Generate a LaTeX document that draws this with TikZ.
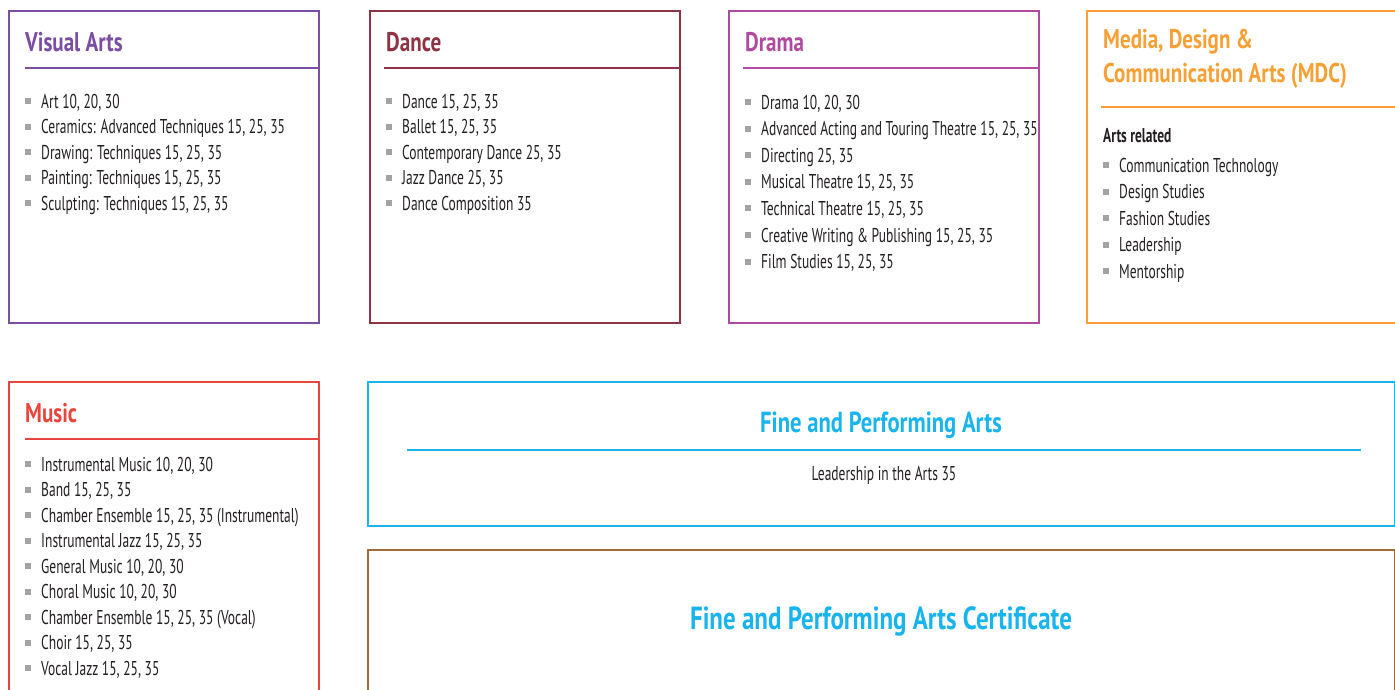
\documentclass[tikz,border=0pt]{standalone}
\usepackage{fontspec}
\setmainfont{PT Sans}[FakeStretch=0.675]
\newfontfamily\ttlfont{PT Sans}[FakeStretch=0.78]
\usepackage{tikz}
\usepackage{xcolor}

\definecolor{vacol}{HTML}{7A4FA3}
\definecolor{dacol}{HTML}{8E3346}
\definecolor{drcol}{HTML}{B04A9E}
\definecolor{mdcol}{HTML}{F7A035}
\definecolor{mucol}{HTML}{E8453C}
\definecolor{fpcol}{HTML}{1AB4EC}
\definecolor{cecol}{HTML}{A26B3E}
\definecolor{txtgray}{HTML}{231F20}
\definecolor{bulgray}{HTML}{A3A3A3}

\newcommand{\bul}{\textcolor{bulgray}{\rule[0.2em]{6pt}{6pt}}\hspace{10pt}}

\tikzset{
  box/.style={draw=#1, line width=2pt, inner sep=0pt, anchor=north west},
  ttl/.style={text=#1, anchor=base west, inner sep=0pt, font=\ttlfont\fontsize{27}{34}\selectfont\bfseries},
  itm/.style={text=txtgray, anchor=base west, inner sep=0pt, font=\fontsize{20}{24}\selectfont},
}

\begin{document}
\begin{tikzpicture}[x=1pt,y=-1pt]
    \useasboundingbox (0,0) rectangle (1395,689);
    \clip (0,0) rectangle (1395,689);

    \node[box=vacol, minimum width=310pt, minimum height=312pt] (va) at (8,10) {};
    \node[ttl=vacol] (vat) at (25,51) {Visual Arts};
    \draw[vacol, line width=1.5pt] (25,68) -- (va.east |- 0,68);
    \foreach \t [count=\i from 0] in {{Art 10, 20, 30},{Ceramics: Advanced Techniques 15, 25, 35},{Drawing: Techniques 15, 25, 35},{Painting: Techniques 15, 25, 35},{Sculpting: Techniques 15, 25, 35}}
      \node[itm] (va\i) at (25,108+25.5*\i) {\bul\t};

    \node[box=dacol, minimum width=310pt, minimum height=312pt] (da) at (369,10) {};
    \node[ttl=dacol] (dat) at (386,51) {Dance};
    \draw[dacol, line width=1.5pt] (384,68) -- (da.east |- 0,68);
    \foreach \t [count=\i from 0] in {{Dance 15, 25, 35},{Ballet 15, 25, 35},{Contemporary Dance 25, 35},{Jazz Dance 25, 35},{Dance Composition 35}}
      \node[itm] (da\i) at (386,108+25.5*\i) {\bul\t};

    \node[box=drcol, minimum width=310pt, minimum height=312pt] (dr) at (728,10) {};
    \node[ttl=drcol] (drt) at (745,51) {Drama};
    \draw[drcol, line width=1.5pt] (743,68) -- (dr.east |- 0,68);
    \foreach \t [count=\i from 0] in {{Drama 10, 20, 30},{Advanced Acting and Touring Theatre 15, 25, 35},{Directing 25, 35},{Musical Theatre 15, 25, 35},{Technical Theatre 15, 25, 35},{Creative Writing \& Publishing 15, 25, 35},{Film Studies 15, 25, 35}}
      \node[itm] (dr\i) at (745,109+26.6*\i) {\bul\t};

    \node[box=mdcol, minimum width=330pt, minimum height=312pt] (md) at (1086,10) {};
    \node[ttl=mdcol] (mdt) at (1103,48) {Media, Design \&};
    \node[ttl=mdcol] (mdt2) at (1103,82) {Communication Arts (MDC)};
    \draw[mdcol, line width=1.5pt] (1101,107) -- (1395,107);
    \node[itm, font=\fontsize{20}{24}\selectfont\bfseries] (mdh) at (1103,142) {Arts related};
    \foreach \t [count=\i from 0] in {{Communication Technology},{Design Studies},{Fashion Studies},{Leadership},{Mentorship}}
      \node[itm] (md\i) at (1103,172+26.5*\i) {\bul\t};

    \node[box=mucol, minimum width=310pt, minimum height=330pt] (mu) at (8,381) {};
    \node[ttl=mucol] (mut) at (25,422) {Music};
    \draw[mucol, line width=1.5pt] (25,439) -- (mu.east |- 0,439);
    \foreach \t [count=\i from 0] in {{Instrumental Music 10, 20, 30},{Band 15, 25, 35},{Chamber Ensemble 15, 25, 35 (Instrumental)},{Instrumental Jazz 15, 25, 35},{General Music 10, 20, 30},{Choral Music 10, 20, 30},{Chamber Ensemble 15, 25, 35 (Vocal)},{Choir 15, 25, 35},{Vocal Jazz 15, 25, 35}}
      \node[itm] (mu\i) at (25,471+25.5*\i) {\bul\t};

    \node[box=fpcol, minimum width=1027pt, minimum height=144pt] (fp) at (367,381) {};
    \node[ttl=fpcol, anchor=base, font=\ttlfont\fontsize{29}{36}\selectfont\bfseries] (fpt) at (881,432) {Fine and Performing Arts};
    \draw[fpcol, line width=1.5pt] (407,450) -- (1361,450);
    \node[itm, anchor=base] (fp0) at (884,480) {Leadership in the Arts 35};

    \node[box=cecol, minimum width=1027pt, minimum height=170pt] (ce) at (367,549) {};
    \node[ttl=fpcol, anchor=base, font=\ttlfont\fontsize{32}{40}\selectfont\bfseries] (cet) at (881,629) {Fine and Performing Arts Certificate};
\end{tikzpicture}
\end{document}
